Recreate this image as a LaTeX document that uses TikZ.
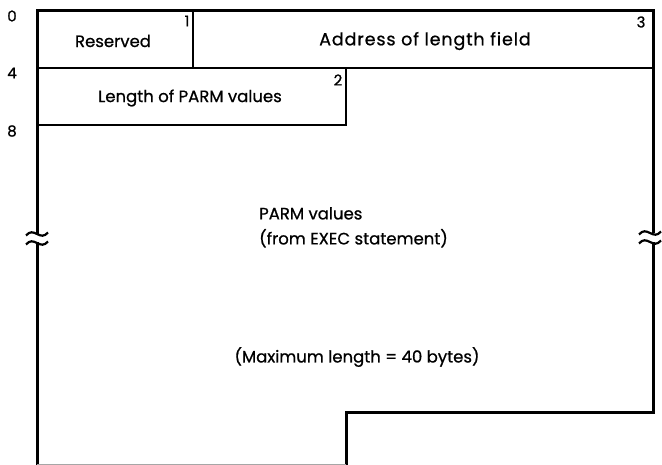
\documentclass[tikz,border=0pt]{standalone}
\usepackage{fontspec}
\setmainfont{Poppins}[FakeBold=0.8]
\begin{document}
\begin{tikzpicture}[x=1pt,y=-1pt,
  frame/.style={line width=3pt,line cap=rect},
  inner/.style={line width=1.8pt},
  lbl/.style={inner sep=0pt,font=\fontsize{16.5}{19}\selectfont},
  num/.style={inner sep=0pt,font=\fontsize{15}{17}\selectfont},
  wave/.style={line width=2.2pt}]
\useasboundingbox (0,0) rectangle (662,465);
% frame
\draw[frame] (346,464) -- (346,412) -- (653,412) -- (653,244);
\draw[frame] (653,232) -- (653,11) -- (37,11) -- (37,233);
\draw[frame] (37,244) -- (37,464);
\draw[line width=0.9pt,gray!70] (37,464) -- (346,464);
% internal lines
\draw[inner] (37,68) -- (653,68);
\draw[inner] (193,11) -- (193,68);
\draw[inner] (37,125) -- (346,125) -- (346,68);
% break marks
\foreach \x/\ya/\yb in {37/234/243, 650/233/242}{
  \draw[wave] (\x-11,\ya+1.5) .. controls (\x-7,\ya-3) and (\x-4,\ya-2) .. (\x,\ya)
     .. controls (\x+4,\ya+2) and (\x+7,\ya+3) .. (\x+11,\ya-1.5);
  \draw[wave] (\x-11,\yb+1.5) .. controls (\x-7,\yb-3) and (\x-4,\yb-2) .. (\x,\yb)
     .. controls (\x+4,\yb+2) and (\x+7,\yb+3) .. (\x+11,\yb-1.5);
}
% offsets
\node[num] (o0) at (12,16) {0};
\node[num] (o4) at (12,73) {4};
\node[num] (o8) at (12,131) {8};
% field numbers
\node[num] (n1) at (187,21) {1};
\node[num] (n3) at (641,22) {3};
\node[num] (n2) at (338,80) {2};
% texts
\node[lbl] (res) at (113,41) {Reserved};
\node[lbl,font=\fontsize{17.5}{19}\selectfont\addfontfeature{LetterSpace=5}] (addr) at (425,41) {Address of length field};
\node[lbl] (len) at (190,98) {Length of PARM values};
\node[lbl,anchor=north west,align=left,font=\fontsize{16.5}{25}\selectfont] (parm) at (259,207) {PARM values\\(from EXEC statement)};
\node[lbl] (max) at (357,357) {(Maximum length = 40 bytes)};
\end{tikzpicture}
\end{document}
